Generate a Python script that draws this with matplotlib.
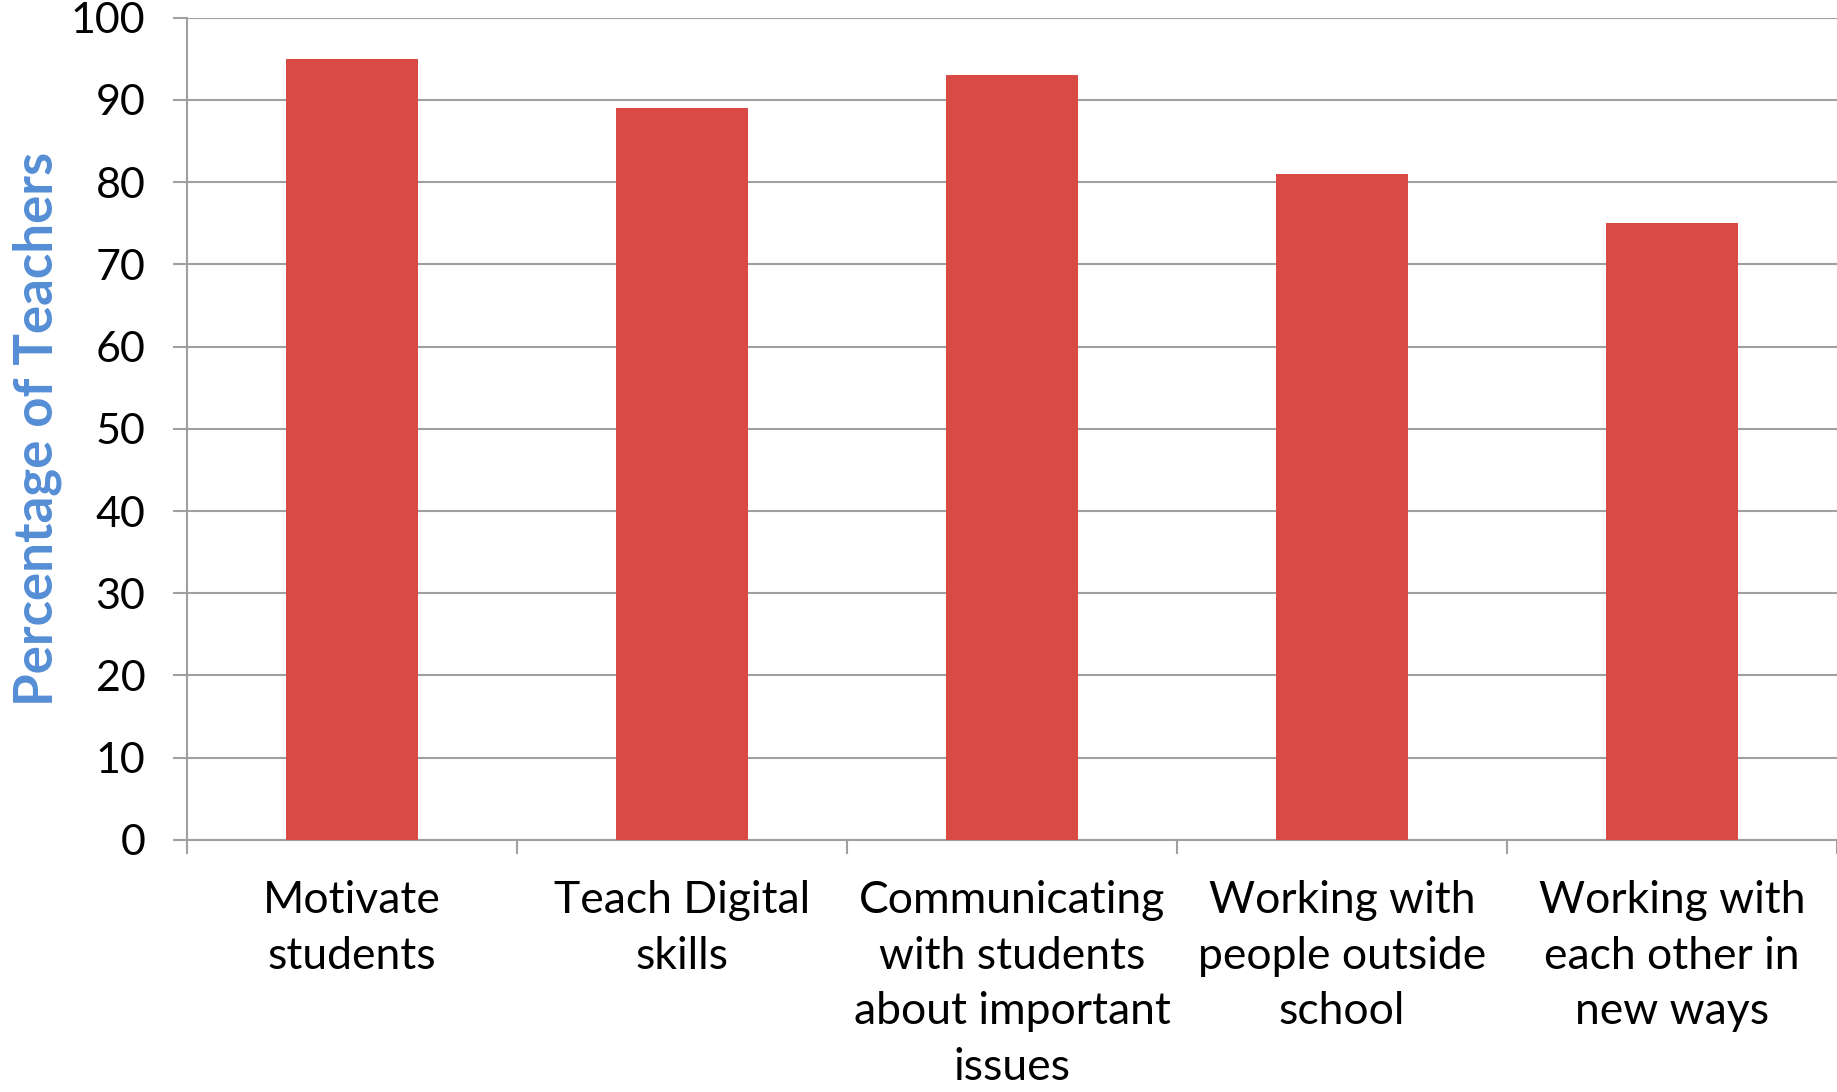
import matplotlib as mpl
mpl.use('Agg')
import matplotlib.pyplot as plt
import numpy as np

categories = ['Motivate\nstudents', 'Teach Digital\nskills',
              'Communicating\nwith students\nabout important\nissues',
              'Working with\npeople outside\nschool',
              'Working with\neach other in\nnew ways']
values = [95, 89, 93, 81, 75]
yticks = [0, 10, 20, 30, 40, 50, 60, 70, 80, 90, 100]

plt.rcParams['font.family'] = ['Lato', 'DejaVu Sans']

fig = plt.figure(figsize=(18.37, 10.92), dpi=100)
ax = fig.add_axes([0.1018, 0.2308, 0.8982, 0.7531])

x = np.arange(len(categories))
ax.bar(x, values, width=0.4, color='#D84A43', zorder=3)

ax.set_xlim(-0.5, len(categories) - 0.5)
ax.set_ylim(0, 100)
ax.set_yticks(yticks)
ax.set_yticklabels([str(v) for v in yticks], fontsize=31)
ax.yaxis.grid(True, color='#A0A0A0', linewidth=1.5, zorder=0)

ax.set_xticks(x)
ax.set_xticklabels(categories, fontsize=32, linespacing=1.44)
ax.set_xticks(np.arange(len(categories) + 1) - 0.5, minor=True)
ax.tick_params(axis='x', which='major', length=0, pad=29)
ax.tick_params(axis='x', which='minor', length=10, width=1.5, color='#A0A0A0')
ax.tick_params(axis='y', length=10, width=1.5, color='#A0A0A0', pad=20)

for s in ['top', 'right']:
    ax.spines[s].set_visible(False)
for s in ['left', 'bottom']:
    ax.spines[s].set_color('#A0A0A0')
    ax.spines[s].set_linewidth(1.5)

ax.set_ylabel('Percentage of Teachers', fontsize=38, fontweight='bold',
              color='#558ED5', labelpad=6)

plt.savefig('out.png')
